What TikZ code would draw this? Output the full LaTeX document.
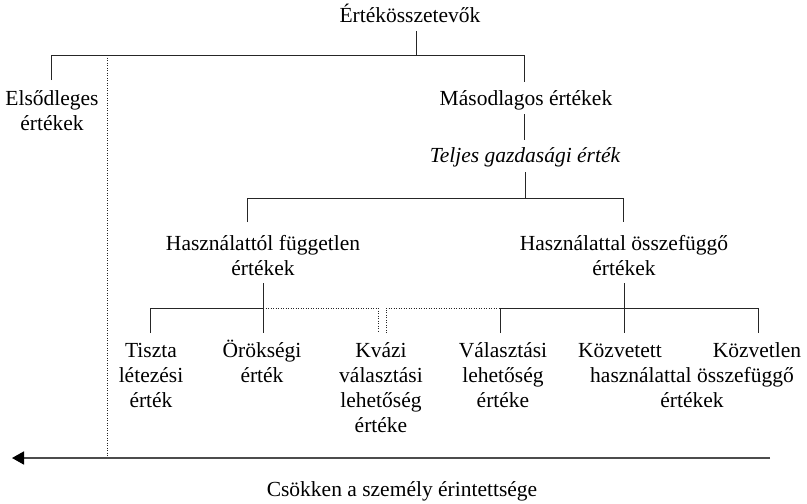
\documentclass[tikz,border=0pt]{standalone}
\usepackage{fontspec}
\setmainfont{Liberation Serif}
\usetikzlibrary{arrows.meta}
\begin{document}
\begin{tikzpicture}[x=1pt,y=-1pt,
  lbl/.style={inner sep=0pt, align=center, anchor=base, font=\fontsize{21.5}{25}\selectfont},
  conn/.style={line width=1pt, draw=black!85},
  dotconn/.style={line width=1pt, draw=black!85, dash pattern=on 1pt off 1.5pt},
]
\useasboundingbox (0,0) rectangle (807,504);
% text nodes (anchor = baseline of the last line)
\node[lbl] (root) at (410,22) {Értékösszetevők};
\node[lbl] (prim) at (52,130) {Elsődleges\\értékek};
\node[lbl] (sec) at (526,105) {Másodlagos értékek};
\node[lbl,font=\fontsize{21.5}{25}\selectfont\itshape] (tev) at (525,162) {Teljes gazdasági érték};
\node[lbl] (nonuse) at (263,275) {Használattól független\\értékek};
\node[lbl] (use) at (624,275) {Használattal összefüggő\\értékek};
\node[lbl] (exist) at (151,407) {Tiszta\\létezési\\érték};
\node[lbl] (beq) at (262,382) {Örökségi\\érték};
\node[lbl] (quasi) at (381,432) {Kvázi\\választási\\lehetőség\\értéke};
\node[lbl] (opt) at (503,407) {Választási\\lehetőség\\értéke};
\node[lbl] (indirect) at (620,357) {Közvetett};
\node[lbl] (direct) at (757,357) {Közvetlen};
\node[lbl] (usejoint) at (692,407) {használattal összefüggő\\értékek};
\node[lbl] (dec) at (402,496) {Csökken a személy érintettsége};
% junction coordinates
\coordinate (t0) at (416,31);
\coordinate (t1) at (416,55);
\coordinate (pL) at (51,55);
\coordinate (pLd) at (51,80);
\coordinate (sR) at (524,55);
\coordinate (sRd) at (524,82);
\coordinate (s2) at (524,114);
\coordinate (s3) at (524,140);
\coordinate (g1) at (525,172);
\coordinate (g2) at (525,198);
\coordinate (hL) at (247,198);
\coordinate (hLd) at (247,222);
\coordinate (hR) at (623,198);
\coordinate (hRd) at (623,222);
\coordinate (n1) at (263,283);
\coordinate (n2) at (263,333);
\coordinate (n3) at (263,308);
\coordinate (e1) at (150,308);
\coordinate (e2) at (150,333);
\coordinate (q1) at (378,308);
\coordinate (q2) at (378,333);
\coordinate (q3) at (386,333);
\coordinate (q4) at (386,308);
\coordinate (o0) at (518,308);
\coordinate (o1) at (500,308);
\coordinate (o2) at (500,333);
\coordinate (u1) at (624,283);
\coordinate (u2) at (624,333);
\coordinate (d1) at (758,308);
\coordinate (d2) at (758,333);
\coordinate (v1) at (107,55);
\coordinate (v2) at (107,458);
\coordinate (a1) at (770,458);
\coordinate (a0) at (12,458);
% connectors
\draw[conn] (t0) -- (t1);
\draw[conn] (pLd) -- (pL) -- (sR) -- (sRd);
\draw[conn] (s2) -- (s3);
\draw[conn] (g1) -- (g2);
\draw[conn] (hLd) -- (hL) -- (hR) -- (hRd);
\draw[conn] (n1) -- (n2);
\draw[conn] (e2) -- (e1) -- (n3);
\draw[dotconn] (n3) -- (q1) -- (q2);
\draw[dotconn] (q3) -- (q4) -- (o0);
\draw[conn] (o2) -- (o1) -- (d1) -- (d2);
\draw[conn] (u1) -- (u2);
\draw[dotconn, line width=0.8pt] (v1) -- (v2);
\draw[line width=1.8pt, draw=black!70, -{Triangle[length=12pt,width=13pt,color=black]}] (a1) -- (a0);
\end{tikzpicture}
\end{document}
